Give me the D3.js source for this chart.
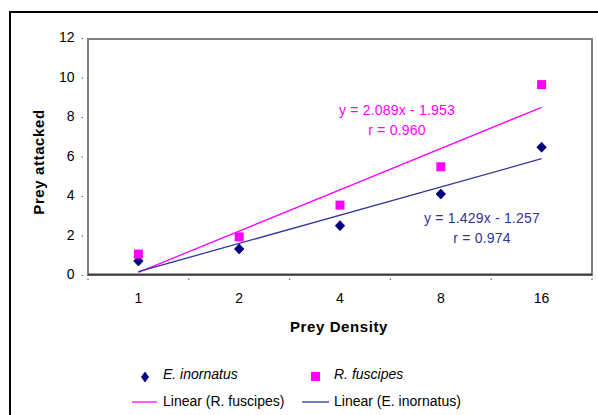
<!DOCTYPE html>
<html><head><meta charset="utf-8">
<script src="https://cdn.jsdelivr.net/npm/d3@7"></script>
<style>body{margin:0;background:#fff}svg{display:block;font-family:"Liberation Sans",Arial,sans-serif}</style>
</head><body>
<svg id="c" width="598" height="415"></svg>
<script>
const categories = ["1","2","4","8","16"];
const eInornatus = [0.71, 1.32, 2.5, 4.1, 6.47];
const rFuscipes = [1.06, 1.93, 3.54, 5.48, 9.64];
const yTicks = [0, 2, 4, 6, 8, 10, 12];
const trendR = {slope: 2.089, intercept: -1.953, label: "y = 2.089x - 1.953", r: "r = 0.960"};
const trendE = {slope: 1.429, intercept: -1.257, label: "y = 1.429x - 1.257", r: "r = 0.974"};

const svg = d3.select("#c");
const L = 88, R = 592, T = 38, B = 275;
const x = d3.scaleBand().domain(categories).range([L, R]);
const y = d3.scaleLinear().domain([0, 12]).range([B, T]);
const cx = c => x(c) + x.bandwidth() / 2;

// outer frame
svg.append("rect").attr("x", 10).attr("y", 12).attr("width", 620).attr("height", 430)
  .attr("fill", "none").attr("stroke", "#000").attr("stroke-width", 2);

// plot area
svg.append("rect").attr("x", L).attr("y", y(12) + 1).attr("width", R - L).attr("height", B - y(12) - 1)
  .attr("fill", "none").attr("stroke", "#808080").attr("stroke-width", 2);
svg.append("line").attr("x1", L).attr("x2", R).attr("y1", B - 0.5).attr("y2", B - 0.5)
  .attr("stroke", "#404040").attr("stroke-width", 2);

// y axis ticks + labels
const yAxis = d3.axisLeft(y).tickValues(yTicks).tickSize(1.5).tickPadding(7).tickFormat(d3.format("d"));
const gy = svg.append("g").attr("transform", `translate(${L - 5},0)`).call(yAxis);
gy.select(".domain").remove();
gy.selectAll(".tick line").attr("stroke", "#666");
gy.selectAll(".tick text").attr("font-size", 14).attr("fill", "#000").attr("dy", "0.28em")
  .attr("font-family", "Liberation Sans, Arial, sans-serif");

// x axis: ticks between categories
const bounds = categories.map(c => x(c)).concat([R]);
svg.selectAll(".xt").data(bounds).join("line").attr("class", "xt")
  .attr("x1", d => d).attr("x2", d => d).attr("y1", 278.5).attr("y2", 280)
  .attr("stroke", "#666").attr("stroke-width", 1.2);
svg.selectAll(".xl").data(categories).join("text").attr("class", "xl")
  .attr("x", d => cx(d)).attr("y", 303).attr("text-anchor", "middle")
  .attr("font-size", 14).text(d => d);

// axis titles
svg.append("text").attr("x", 339).attr("y", 332).attr("text-anchor", "middle")
  .attr("font-size", 15).attr("font-weight", "bold").attr("letter-spacing", 0.6).text("Prey Density");
svg.append("text").attr("transform", "translate(43.5,162) rotate(-90)").attr("text-anchor", "middle")
  .attr("font-size", 15).attr("font-weight", "bold").attr("letter-spacing", 0.6).text("Prey attacked");

// trend lines
function trend(t, color) {
  const i0 = 1, i1 = categories.length;
  svg.append("line")
    .attr("x1", cx(categories[0])).attr("y1", y(t.slope * i0 + t.intercept))
    .attr("x2", cx(categories[i1 - 1])).attr("y2", y(t.slope * i1 + t.intercept))
    .attr("stroke", color).attr("stroke-width", 1.3);
}
trend(trendR, "#ff00ff");
trend(trendE, "#333399");

// markers
const diamond = (w, h) => `M0,${-h/2}L${w/2},0L0,${h/2}L${-w/2},0Z`;
svg.selectAll(".de").data(eInornatus).join("path").attr("class", "de")
  .attr("transform", (d, i) => `translate(${cx(categories[i])},${y(d)})`)
  .attr("d", diamond(9.5, 10)).attr("fill", "#000080").attr("stroke", "#000080").attr("stroke-width", 0.8);
svg.selectAll(".sr").data(rFuscipes).join("rect").attr("class", "sr")
  .attr("x", (d, i) => cx(categories[i]) - 4.5).attr("y", d => y(d) - 4.5)
  .attr("width", 9).attr("height", 9).attr("fill", "#ff00ff");

// equation labels
function eq(t, xc, y1, y2, color) {
  svg.append("text").attr("x", xc).attr("y", y1).attr("text-anchor", "middle")
    .attr("font-size", 14).attr("fill", color).attr("letter-spacing", 0.2).text(t.label);
  svg.append("text").attr("x", xc).attr("y", y2).attr("text-anchor", "middle")
    .attr("font-size", 14).attr("fill", color).attr("letter-spacing", 0.2).text(t.r);
}
eq(trendR, 397, 115, 134.5, "#ff00ff");
eq(trendE, 482, 223, 243, "#333399");

// legend
svg.append("path").attr("transform", "translate(145,377)").attr("d", diamond(7.5, 10))
  .attr("fill", "#000080").attr("stroke", "#000080").attr("stroke-width", 0.6);
svg.append("text").attr("x", 163).attr("y", 379).attr("font-size", 14).attr("font-style", "italic").text("E. inornatus");
svg.append("rect").attr("x", 311).attr("y", 372).attr("width", 9).attr("height", 9).attr("fill", "#ff00ff");
svg.append("text").attr("x", 334).attr("y", 379).attr("font-size", 14).attr("font-style", "italic").text("R. fuscipes");
svg.append("line").attr("x1", 132).attr("x2", 157).attr("y1", 402).attr("y2", 402).attr("stroke", "#ff00ff").attr("stroke-width", 1.3);
svg.append("text").attr("x", 163).attr("y", 405.5).attr("font-size", 14).text("Linear (R. fuscipes)");
svg.append("line").attr("x1", 302).attr("x2", 329).attr("y1", 402).attr("y2", 402).attr("stroke", "#333399").attr("stroke-width", 1.3);
svg.append("text").attr("x", 334).attr("y", 405.5).attr("font-size", 14).text("Linear (E. inornatus)");
</script>
</body></html>
